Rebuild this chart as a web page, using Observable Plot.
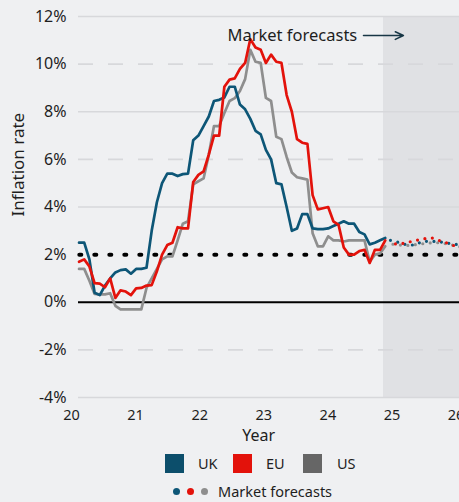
<!DOCTYPE html>
<html><head><meta charset="utf-8">
<script src="https://cdn.jsdelivr.net/npm/d3@7"></script>
<script src="https://cdn.jsdelivr.net/npm/@observablehq/plot@0.6"></script>
<style>
body{margin:0;background:#eff0f2;font-family:"Noto Sans",sans-serif;color:#1e1e1e;}
#wrap{position:relative;width:459px;height:502px;overflow:hidden;}
#chart{position:absolute;left:0;top:0;}
#legend{position:absolute;left:0;top:450px;width:459px;height:52px;}
.sw{position:absolute;width:19px;height:19px;top:4px;}
.lt{position:absolute;top:4px;height:19px;line-height:19px;font-size:14.5px;}
.dot{position:absolute;width:7px;height:7px;border-radius:50%;top:37.5px;}
.ft{position:absolute;top:31px;height:20px;line-height:20px;font-size:14.5px;}
</style></head>
<body>
<div id="wrap"><div id="chart"></div><div id="legend"></div></div>
<script>
// Series names and colours
const seriesNames = ["UK", "EU", "US"];
const lineColors = ["#0d5677", "#e3120b", "#8e8e8e"];
const legendColors = ["#0c4e6b", "#e3120b", "#666666"];

// Monthly inflation (%), Jan 2020 - Dec 2024
const ukActual = [2.5, 2.5, 1.8, 0.4, 0.3, 0.7, 1.0, 1.25, 1.35, 1.38, 1.2, 1.4,
  1.4, 1.45, 3.0, 4.2, 5.0, 5.4, 5.4, 5.3, 5.38, 5.4, 6.8, 7.0,
  7.4, 7.8, 8.45, 8.5, 8.6, 9.05, 9.05, 8.3, 8.1, 7.7, 7.2, 7.05,
  6.4, 6.0, 5.0, 4.95, 4.0, 3.0, 3.1, 3.7, 3.7, 3.1, 3.07, 3.07,
  3.1, 3.2, 3.3, 3.4, 3.3, 3.3, 2.95, 2.85, 2.43, 2.5, 2.6, 2.7];
const euActual = [1.7, 1.8, 1.5, 0.8, 0.78, 0.63, 1.0, 0.18, 0.5, 0.45, 0.3, 0.58,
  0.6, 0.7, 0.72, 1.3, 2.0, 2.4, 2.5, 3.15, 3.1, 3.1, 5.05, 5.35,
  5.5, 6.2, 7.0, 7.0, 9.05, 9.35, 9.4, 9.8, 10.05, 11.05, 10.7, 10.6,
  10.05, 10.4, 10.1, 10.05, 8.7, 8.0, 6.85, 6.7, 6.65, 4.5, 3.9, 3.95,
  4.0, 3.4, 3.25, 2.3, 2.0, 2.0, 2.15, 2.2, 1.65, 2.2, 2.2, 2.6];
const usActual = [1.4, 1.4, 0.9, 0.35, 0.33, 0.33, 0.38, -0.15, -0.3, -0.3, -0.3, -0.3,
  -0.3, 0.6, 1.0, 1.4, 1.8, 1.93, 1.93, 2.6, 3.3, 3.4, 4.95, 5.08,
  5.2, 6.2, 7.4, 7.4, 7.95, 8.45, 8.57, 8.87, 9.37, 10.6, 10.1, 10.05,
  8.58, 8.45, 6.95, 6.85, 6.1, 5.45, 5.25, 5.2, 5.15, 2.9, 2.35, 2.35,
  2.77, 2.6, 2.6, 2.55, 2.6, 2.6, 2.6, 2.6, 1.7, 2.0, 2.05, 2.35];

// Market forecasts (%), Jan 2025 onward
const ukForecast = [2.6, 2.55, 2.48, 2.42, 2.4, 2.42, 2.55, 2.56, 2.56, 2.55, 2.52, 2.48, 2.45, 2.42, 2.4];
const euForecast = [2.45, 2.45, 2.45, 2.5, 2.55, 2.6, 2.65, 2.68, 2.7, 2.62, 2.55, 2.48, 2.4, 2.3, 2.25];
const usForecast = [2.45, 2.42, 2.4, 2.38, 2.4, 2.42, 2.45, 2.48, 2.5, 2.5, 2.48, 2.45, 2.4, 2.35, 2.3];

// Axis ticks
const yTicks = [-4, -2, 0, 2, 4, 6, 8, 10, 12];
const solidGrid = [-4, 4, 8, 12];
const dashedGrid = [-2, 6, 10];
const yearLabels = ["20", "21", "22", "23", "24", "25", "26"];

// Scale extents in months from Jan 2020
const xMin = -1.45, xMax = 73.3, gridStart = -0.1, shadeStart = 58.66, monthsPerLabel = 12.35;
const yearTickPos = yearLabels.map((_, k) => xMin + k * monthsPerLabel);

const actualArrays = [ukActual, euActual, usActual];
const forecastArrays = [ukForecast, euForecast, usForecast];
const nActual = ukActual.length;

const actual = [];
const forecast = [];
seriesNames.forEach((s, j) => {
  actualArrays[j].forEach((v, i) => actual.push({series: s, month: i, value: v}));
  forecastArrays[j].forEach((v, i) => forecast.push({series: s, month: nActual + i, value: v}));
});

const drawOrder = [2, 0, 1];
const offsets = [0, 2.5, 5];

const marks = [
  Plot.rect([0], {x1: shadeStart, x2: xMax, y1: -4, y2: 12, fill: "#e0e1e4"}),
  Plot.ruleY(solidGrid, {x1: gridStart, x2: xMax, stroke: "#d7d8db", strokeWidth: 1.6}),
  Plot.ruleY(dashedGrid, {x1: gridStart, x2: xMax, stroke: "#d7d8db", strokeWidth: 1.6, strokeDasharray: "15 15"}),
  Plot.ruleY([0], {x1: gridStart, x2: xMax, stroke: "#000", strokeWidth: 2}),
  Plot.ruleY([2], {x1: gridStart + 0.25, x2: xMax, stroke: "#000", strokeWidth: 4, strokeDasharray: "2 13", strokeLinecap: "round"})
];
drawOrder.forEach(j => {
  const s = seriesNames[j];
  marks.push(Plot.line(actual.filter(d => d.series === s), {x: "month", y: "value", stroke: lineColors[j], strokeWidth: 2.7, strokeLinejoin: "round"}));
});
drawOrder.forEach(j => {
  const s = seriesNames[j];
  marks.push(Plot.line(forecast.filter(d => d.series === s), {x: "month", y: "value", stroke: lineColors[j], strokeWidth: 3.2, strokeDasharray: "0 7.5", strokeDashoffset: offsets[j], strokeLinecap: "round"}));
});
marks.push(
  Plot.text(["Market forecasts"], {x: 53.6, y: 11.2, textAnchor: "end", fontSize: 16.5, fill: "#1e1e1e"}),
  Plot.arrow([0], {x1: 54.8, x2: 62.5, y1: 11.2, y2: 11.2, stroke: "#173645", strokeWidth: 1.5, headLength: 9, headAngle: 50}),
  Plot.axisY({ticks: yTicks, tickFormat: d => `${d}%`, tickSize: 0, tickPadding: 5, fontSize: 16, label: null}),
  Plot.axisX({ticks: yearTickPos, tickFormat: d => yearLabels[yearTickPos.indexOf(d)], tickSize: 0, tickPadding: 12, fontSize: 14.5, label: null}),
  Plot.text(["Year"], {x: 34.6, frameAnchor: "bottom", dy: 43, fontSize: 16, fill: "#1e1e1e"}),
  Plot.text(["Inflation rate"], {y: 3.6, frameAnchor: "left", dx: -53, rotate: -90, fontSize: 17, fill: "#1e1e1e"})
);

const chart = Plot.plot({
  width: 459, height: 450,
  marginLeft: 71, marginRight: 0, marginTop: 16, marginBottom: 53,
  style: {fontFamily: "Noto Sans", background: "transparent", color: "#1e1e1e", overflow: "hidden"},
  x: {domain: [xMin, xMax]},
  y: {domain: [-4, 12]},
  marks
});
document.getElementById("chart").appendChild(chart);

// Legend
const legend = document.getElementById("legend");
const swLeft = [165, 233, 303];
const txtLeft = [198, 266, 337];
seriesNames.forEach((s, j) => {
  const sw = document.createElement("div");
  sw.className = "sw"; sw.style.left = swLeft[j] + "px"; sw.style.background = legendColors[j];
  legend.appendChild(sw);
  const t = document.createElement("div");
  t.className = "lt"; t.style.left = txtLeft[j] + "px"; t.textContent = s;
  legend.appendChild(t);
});
const dotCx = [176.5, 190, 204];
dotCx.forEach((cx, j) => {
  const d = document.createElement("div");
  d.className = "dot"; d.style.left = (cx - 3.5) + "px"; d.style.background = lineColors[j];
  legend.appendChild(d);
});
const ft = document.createElement("div");
ft.className = "ft"; ft.style.left = "218px"; ft.textContent = "Market forecasts";
legend.appendChild(ft);
</script>
</body></html>
